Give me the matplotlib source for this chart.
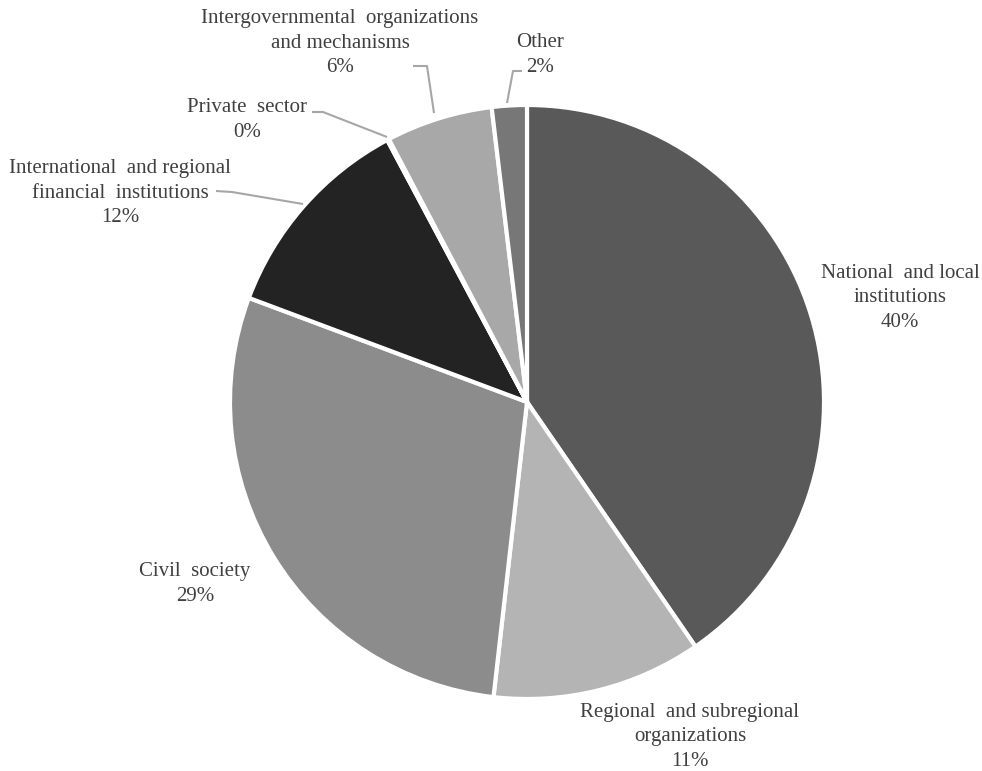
import numpy as np
import matplotlib
matplotlib.use("Agg")
from matplotlib import pyplot as plt

# share of partners by type (percent)
categories = ["National  and local\ninstitutions",
              "Regional  and subregional\norganizations",
              "Civil  society",
              "International  and regional\nfinancial  institutions",
              "Private  sector",
              "Intergovernmental  organizations\nand mechanisms",
              "Other"]
shares = [40.4, 11.4, 28.9, 11.5, 0.1, 5.8, 1.9]
colors = ["#595959", "#b4b4b4", "#8c8c8c", "#232323", "#7f7f7f", "#a8a8a8", "#777777"]

# label centres (x, y) in figure pixels, y measured from the top
label_pos = [(900, 298), (690, 737), (195, 584), (120, 193), (247, 120), (340, 43), (540, 55)]
# leader lines: list of points from text towards the wedge, None = no leader
leaders = [None, None, None,
           [(216, 191), (232, 192), (303, 204)],
           [(312, 112), (323, 112), (387, 137)],
           [(413, 66), (427, 66), (434, 113)],
           [(522, 71), (513, 71), (507, 103)]]

W, H = 982, 771
plt.rcParams['font.family'] = ['Liberation Serif', 'DejaVu Serif']

fig = plt.figure(figsize=(W / 100, H / 100), dpi=100)
ax = fig.add_axes([0, 0, 1, 1])

cx, cy, R = 527, H - 402, 297
wedges, _ = ax.pie(shares, colors=colors, startangle=90, counterclock=False,
                   center=(cx, cy), radius=R, frame=True,
                   wedgeprops=dict(edgecolor='white', linewidth=3))
ax.set_xlim(0, W)
ax.set_ylim(0, H)
ax.set_aspect('equal')
ax.axis('off')

for name, val, (tx, ty), ld in zip(categories, shares, label_pos, leaders):
    ax.text(tx, H - ty, "%s\n%d%%" % (name, round(val)), ha='center', va='center',
            fontsize=15, color='#404040', linespacing=1.42)
    if ld is not None:
        xs = [p[0] for p in ld]
        ys = [H - p[1] for p in ld]
        ax.plot(xs, ys, color='#a6a6a6', lw=1.5, solid_capstyle='butt')

fig.savefig("out.png", dpi=100)
